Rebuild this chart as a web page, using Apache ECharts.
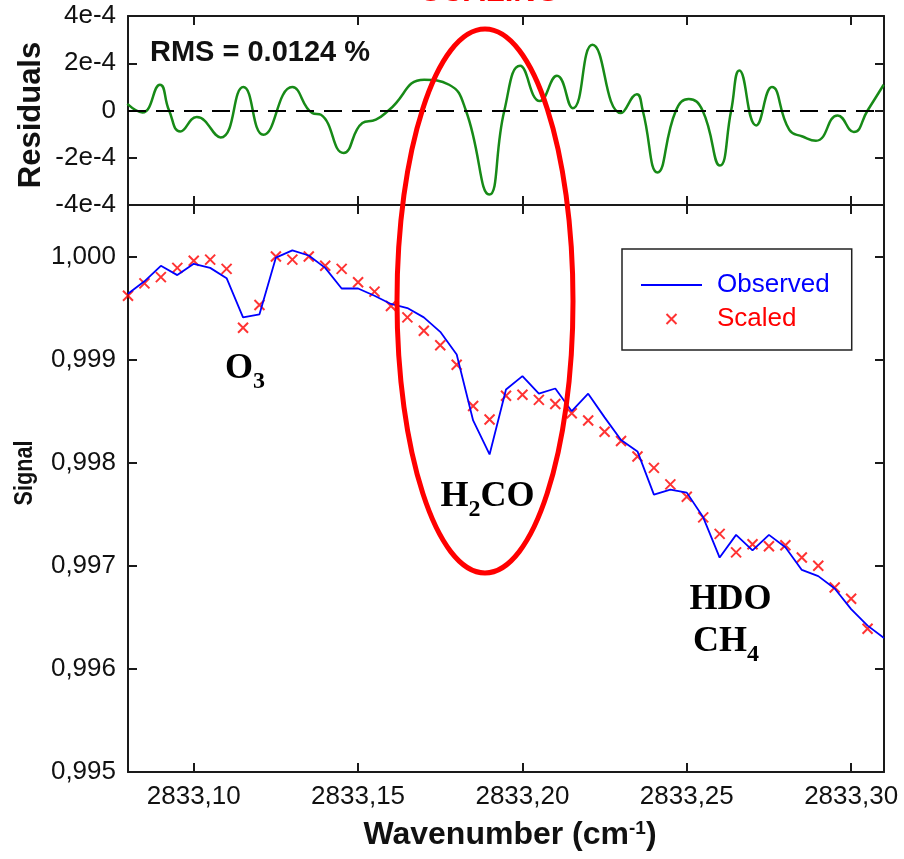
<!DOCTYPE html>
<html><head><meta charset="utf-8">
<script src="https://cdn.jsdelivr.net/npm/echarts@6/dist/echarts.min.js"></script>
<style>html,body{margin:0;padding:0;background:#fff}#c{width:904px;height:859px}</style>
</head><body><div id="c"></div>
<script>
// ---- data ----
const wavenumber = [2833.080,2833.085,2833.090,2833.095,2833.100,2833.105,2833.110,2833.115,2833.120,2833.125,
  2833.130,2833.135,2833.140,2833.145,2833.150,2833.155,2833.160,2833.165,2833.170,2833.175,
  2833.180,2833.185,2833.190,2833.195,2833.200,2833.205,2833.210,2833.215,2833.220,2833.225,
  2833.230,2833.235,2833.240,2833.245,2833.250,2833.255,2833.260,2833.265,2833.270,2833.275,
  2833.280,2833.285,2833.290,2833.295,2833.300,2833.305,2833.310];
const observed = [0.99964,0.99976,0.99991,0.99982,0.99993,0.99989,0.99979,0.99941,0.99944,0.99999,
  1.00006,1.00001,0.99989,0.99969,0.99969,0.99962,0.99954,0.99950,0.99941,0.99927,
  0.99905,0.99841,0.99808,0.99871,0.99884,0.99867,0.99872,0.99850,0.99867,0.99844,
  0.99822,0.99811,0.99769,0.99774,0.99771,0.99747,0.99708,0.99730,0.99715,0.99730,
  0.99718,0.99696,0.99690,0.99678,0.99658,0.99642,0.99630];
const scaled = [0.99962,0.99974,0.99980,0.99989,0.99996,0.99997,0.99988,0.99931,0.99953,1.00000,
  0.99997,1.00000,0.99991,0.99988,0.99975,0.99966,0.99952,0.99941,0.99928,0.99914,
  0.99895,0.99855,0.99842,0.99865,0.99866,0.99861,0.99857,0.99848,0.99841,0.99830,
  0.99821,0.99806,0.99795,0.99779,0.99767,0.99747,0.99731,0.99713,0.99721,0.99719,
  0.99720,0.99708,0.99700,0.99679,0.99668,0.99639,null];
const residualX = [2833.0798,2833.0844,2833.0897,2833.0925,2833.0959,2833.1009,2833.1082,2833.1151,2833.1212,2833.1300,
  2833.1361,2833.1387,2833.1456,2833.1513,2833.1554,2833.1595,2833.1701,2833.1777,2833.1828,2833.1899,
  2833.1945,2833.1993,2833.2053,2833.2105,2833.2153,2833.2213,2833.2300,2833.2348,2833.2366,2833.2411,
  2833.2467,2833.2506,2833.2548,2833.2601,2833.2635,2833.2660,2833.2711,2833.2759,2833.2812,2833.2852,
  2833.2893,2833.2959,2833.3008,2833.3050,2833.3099];
const residualY = [2.8e-5,-0.8e-5,10.9e-5,0,-8.9e-5,-2.8e-5,-11.4e-5,9.9e-5,-10.3e-5,9.9e-5,
  -1.1e-5,-1.8e-5,-18.0e-5,-5.3e-5,-3.9e-5,0.3e-5,13.0e-5,10.9e-5,0,-35.6e-5,
  0,18.9e-5,4.0e-5,14.7e-5,1.0e-5,27.8e-5,-1.1e-5,6.9e-5,0,-26.2e-5,
  0,4.9e-5,0,-23.3e-5,0,16.9e-5,-6.3e-5,9.9e-5,-8.2e-5,-11.0e-5,
  -12.8e-5,-2.1e-5,-9.1e-5,0,10.9e-5];
const xTicks = [2833.10,2833.15,2833.20,2833.25,2833.30];
const signalTicks = [0.995,0.996,0.997,0.998,0.999,1.000];
const residualTicks = [-4e-4,-2e-4,0,2e-4,4e-4];
const residualTickLabels = ['-4e-4','-2e-4','0','2e-4','4e-4'];
const seriesNames = ['Observed','Scaled'];

// ---- chart ----
const SANS = '"Liberation Sans", Arial, sans-serif';
const SERIF = '"Liberation Serif", "Times New Roman", serif';
const AX = '#1a1a1a';
const X_MIN = 2833.08, X_MAX = 2833.31;

function xAx(grid, pos, showLabel) {
  return {
    type: 'value', gridIndex: grid, position: pos, min: X_MIN, max: X_MAX,
    axisLine: {show: true, onZero: false, lineStyle: {color: AX, width: 2}},
    axisTick: {show: true, inside: true, length: 9, customValues: xTicks, lineStyle: {color: AX, width: 2}},
    axisLabel: {show: showLabel, customValues: xTicks, fontSize: 26, fontFamily: SANS, color: '#111', margin: 12,
      formatter: v => v.toFixed(2).replace('.', ',')},
    splitLine: {show: false}
  };
}
function yAx(grid, pos, showLabel, min, max, ticks, fmt) {
  return {
    type: 'value', gridIndex: grid, position: pos, min: min, max: max,
    axisLine: {show: true, onZero: false, lineStyle: {color: AX, width: 2}},
    axisTick: {show: true, inside: true, length: 9, customValues: ticks, lineStyle: {color: AX, width: 2}},
    axisLabel: {show: showLabel, customValues: ticks, fontSize: 26, fontFamily: SANS, color: '#111', margin: 12, formatter: fmt},
    splitLine: {show: false}
  };
}
const resFmt = v => {
  for (let i = 0; i < residualTicks.length; i++) if (Math.abs(v - residualTicks[i]) < 1e-9) return residualTickLabels[i];
  return '';
};
const sigFmt = v => v.toFixed(3).replace('.', ',');

const XPATH = 'path://M0,0M14,14M2,2L12,12M12,2L2,12';
const LINEICON = 'path://M0,0L61,0L61,2L0,2Z';

const chart = echarts.init(document.getElementById('c'), null, {renderer: 'canvas'});
const subRich = {
  m: {fontSize: 36, fontWeight: 'bold', fontFamily: SERIF, lineHeight: 36, padding: [0, 0, 7, 0], verticalAlign: 'bottom', fill: '#000', color: '#000'},
  s: {fontSize: 24, fontWeight: 'bold', fontFamily: SERIF, lineHeight: 24, verticalAlign: 'bottom', fill: '#000', color: '#000'}
};
function annot(text, x, y) {
  return {type: 'text', x: x, y: y, z: 50,
    style: {text: text, rich: subRich, align: 'center', textAlign: 'center', verticalAlign: 'top', textVerticalAlign: 'top'}};
}

chart.setOption({
  animation: false,
  backgroundColor: '#fff',
  grid: [
    {left: 128, right: 20, top: 16, height: 189, outerBoundsMode: 'none'},
    {left: 128, right: 20, top: 205, height: 567, outerBoundsMode: 'none'}
  ],
  xAxis: [xAx(0, 'bottom', false), xAx(0, 'top', false), xAx(1, 'bottom', true), xAx(1, 'top', false)],
  yAxis: [
    yAx(0, 'left', true, -4e-4, 4e-4, residualTicks, resFmt),
    yAx(0, 'right', false, -4e-4, 4e-4, residualTicks, resFmt),
    yAx(1, 'left', true, 0.995, 1.0005, signalTicks, sigFmt),
    yAx(1, 'right', false, 0.995, 1.0005, signalTicks, sigFmt)
  ],
  legend: {
    orient: 'vertical', left: 622, top: 249,
    padding: [23, 22, 18, 19], itemGap: 8,
    borderColor: '#222', borderWidth: 1.5, backgroundColor: '#fff',
    itemWidth: 61, itemHeight: 14,
    textStyle: {fontSize: 26, fontFamily: SANS, padding: [0, 0, 0, 10]},
    data: [
      {name: seriesNames[0], icon: LINEICON, textStyle: {color: '#0000ff'}},
      {name: seriesNames[1], textStyle: {color: '#ff0000'}}
    ]
  },
  series: [
    {
      type: 'line', name: 'Residuals', xAxisIndex: 0, yAxisIndex: 0,
      data: residualX.map((x, i) => [x, residualY[i]]),
      smooth: 0.5, symbol: 'none', lineStyle: {color: '#178a17', width: 2.5}, itemStyle: {color: '#178a17'},
      markLine: {silent: true, symbol: 'none', label: {show: false},
        lineStyle: {color: '#000', width: 2, type: [18, 10]}, data: [{yAxis: 0}]}
    },
    {
      type: 'line', name: seriesNames[0], xAxisIndex: 2, yAxisIndex: 2,
      data: wavenumber.map((x, i) => [x, observed[i]]),
      symbol: 'none', showSymbol: false, lineStyle: {color: '#0000ff', width: 1.8}, itemStyle: {color: '#0000ff'}
    },
    {
      type: 'scatter', name: seriesNames[1], xAxisIndex: 2, yAxisIndex: 2,
      data: wavenumber.map((x, i) => [x, scaled[i]]).filter(d => d[1] !== null),
      symbol: XPATH, symbolSize: 14,
      itemStyle: {color: 'rgba(0,0,0,0)', borderColor: '#ff0000', borderWidth: 2}
    }
  ],
  graphic: [
    {type: 'text', x: 490, y: 7.5, style: {text: 'SCALING', font: 'bold 31px ' + SANS, fill: '#ff0000',
      align: 'center', textAlign: 'center', verticalAlign: 'bottom', textVerticalAlign: 'bottom'}},
    {type: 'text', x: 150, y: 53, style: {text: 'RMS = 0.0124 %', font: 'bold 29px ' + SANS, fill: '#111',
      align: 'left', textAlign: 'left', verticalAlign: 'middle', textVerticalAlign: 'middle'}},
    {type: 'text', x: 31.5, y: 115, rotation: Math.PI / 2, style: {text: 'Residuals', font: 'bold 31px ' + SANS, fill: '#111',
      align: 'center', textAlign: 'center', verticalAlign: 'middle', textVerticalAlign: 'middle'}},
    {type: 'text', x: 24.5, y: 473, rotation: Math.PI / 2, scaleX: 0.83, style: {text: 'Signal', font: 'bold 26px ' + SANS, fill: '#111',
      align: 'center', textAlign: 'center', verticalAlign: 'middle', textVerticalAlign: 'middle'}},
    {type: 'text', x: 510, y: 835, style: {
      text: '{a|Wavenumber (cm}{b|-1}{a|)}',
      rich: {a: {fontSize: 32, fontWeight: 'bold', fontFamily: SANS, fill: '#111', lineHeight: 32},
             b: {fontSize: 19, fontWeight: 'bold', fontFamily: SANS, fill: '#111', lineHeight: 19, verticalAlign: 'top'}},
      align: 'center', textAlign: 'center', verticalAlign: 'middle', textVerticalAlign: 'middle'}},
    annot('{m|O}{s|3}', 245, 358),
    annot('{m|H}{s|2}{m|CO}', 487.5, 486),
    annot('{m|HDO}', 730.5, 589),
    annot('{m|CH}{s|4}', 726, 631),
    {type: 'ellipse', z: 100, shape: {cx: 485, cy: 301, rx: 88, ry: 272},
      style: {fill: 'none', stroke: '#ff0000', lineWidth: 5}}
  ]
});
</script>
</body></html>
